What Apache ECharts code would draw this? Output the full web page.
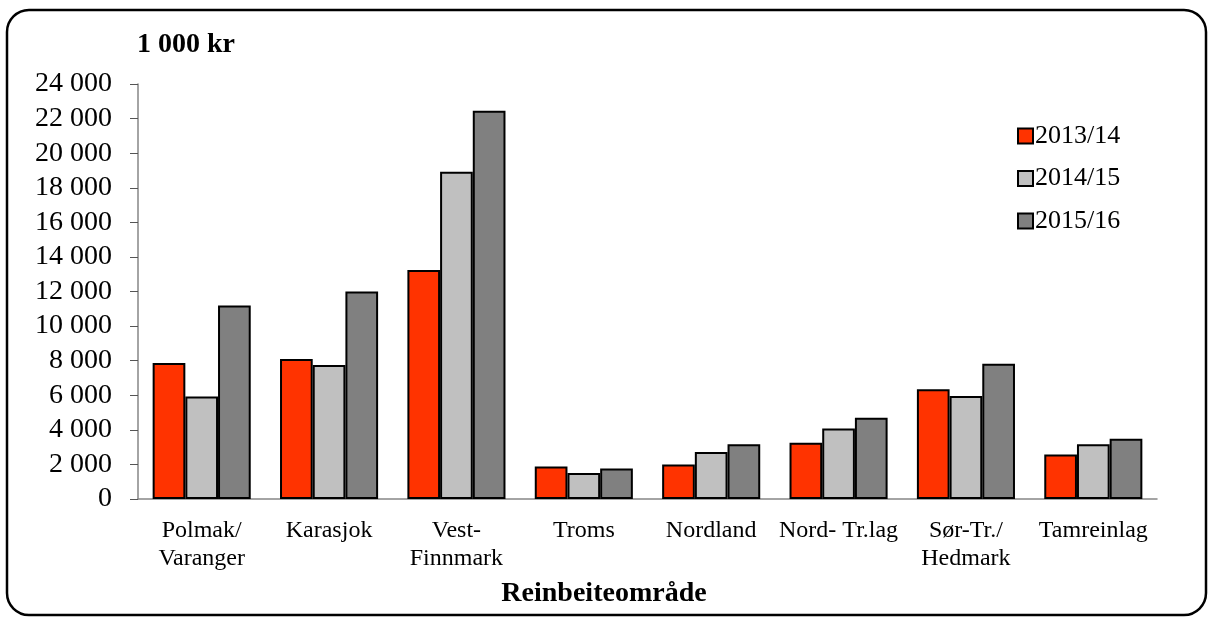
<!DOCTYPE html>
<html><head><meta charset="utf-8">
<script src="https://cdn.jsdelivr.net/npm/echarts@6/dist/echarts.min.js"></script>
<style>html,body{margin:0;padding:0;background:#fff}#c{width:1208px;height:621px}</style>
</head><body><div id="c"></div>
<script>
const categories = ['Polmak/\nVaranger','Karasjok','Vest-\nFinnmark','Troms','Nordland','Nord- Tr.lag','Sør-Tr./\nHedmark','Tamreinlag'];
const seriesNames = ['2013/14','2014/15','2015/16'];
const s2013 = [7860, 8090, 13250, 1880, 2000, 3250, 6340, 2580];
const s2014 = [5930, 7750, 18920, 1500, 2720, 4080, 5950, 3160];
const s2015 = [11190, 12000, 22460, 1770, 3160, 4700, 7820, 3490];
const yTicks = {min: 0, max: 24000, interval: 2000};
const colors = ['#FF3300', '#C0C0C0', '#808080'];
const font = '"Liberation Serif", "Times New Roman", serif';

const chart = echarts.init(document.getElementById('c'));
const data = [s2013, s2014, s2015];
chart.setOption({
  animation: false,
  textStyle: {fontFamily: font, color: '#000'},
  graphic: [
    {type: 'rect', shape: {x: 7, y: 10, width: 1199, height: 605, r: 22}, style: {fill: 'none', stroke: '#000', lineWidth: 2.5}, z: 100},
    {type: 'text', left: 137, top: 31, style: {text: '1 000 kr', font: 'bold 28px ' + font, fill: '#000'}},
    {type: 'text', left: 'center', top: 580, style: {text: 'Reinbeiteområde', font: 'bold 28px ' + font, fill: '#000'}}
  ],
  grid: {left: 138, right: 51, top: 84, bottom: 122},
  legend: {
    orient: 'vertical', left: 1012, top: 118, itemWidth: 15, itemHeight: 15, itemGap: 16.5,
    icon: 'rect',
    textStyle: {fontFamily: font, fontSize: 26, color: '#000', padding: [0,0,0,-3]},
    data: seriesNames
  },
  xAxis: {
    type: 'category', data: categories,
    axisLine: {lineStyle: {color: '#868686', width: 1.5}},
    axisTick: {length: 8, lineStyle: {color: '#555'}},
    axisLabel: {fontFamily: font, fontSize: 24, color: '#000', margin: 18, lineHeight: 28, interval: 0}
  },
  yAxis: {
    type: 'value', min: yTicks.min, max: yTicks.max, interval: yTicks.interval,
    splitLine: {show: false},
    axisLine: {show: true, lineStyle: {color: '#868686', width: 1.5}},
    axisTick: {show: true, length: 8, lineStyle: {color: '#555'}},
    axisLabel: {fontFamily: font, fontSize: 28, color: '#000', margin: 26,
      formatter: v => v === 0 ? '0' : String(v).replace(/\B(?=(\d{3})+(?!\d))/g, ' ')}
  },
  series: seriesNames.map((n, i) => ({
    name: n, type: 'bar', data: data[i], barGap: '0%', barCategoryGap: '23%',
    itemStyle: {color: colors[i], borderColor: '#000', borderWidth: 2}
  }))
});
</script></body></html>
